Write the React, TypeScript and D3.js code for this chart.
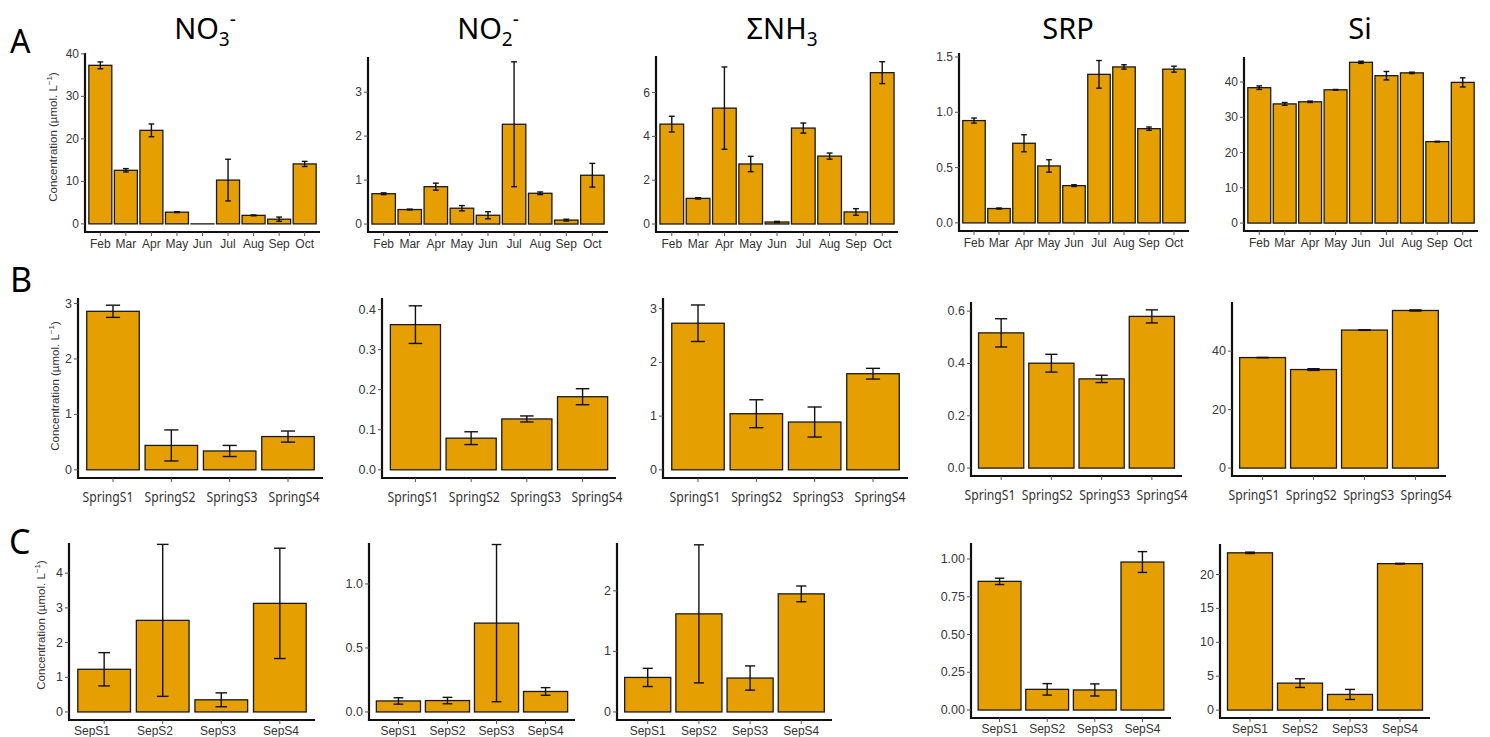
import React from "react";
import * as d3 from "d3";

// ---------- categories ----------
const MONTHS = ["Feb", "Mar", "Apr", "May", "Jun", "Jul", "Aug", "Sep", "Oct"];
const SPRING = ["SpringS1", "SpringS2", "SpringS3", "SpringS4"];
const SEPT = ["SepS1", "SepS2", "SepS3", "SepS4"];

// ---------- row A: monthly means and errors ----------
const NO3_MONTH = [37.3, 12.6, 22.0, 2.75, 0.0, 10.3, 2.0, 1.1, 14.1];
const NO3_MONTH_SE = [0.8, 0.4, 1.5, 0.1, 0, 4.9, 0.1, 0.5, 0.6];
const NO2_MONTH = [0.69, 0.33, 0.85, 0.36, 0.2, 2.27, 0.7, 0.09, 1.11];
const NO2_MONTH_SE = [0.02, 0.01, 0.08, 0.06, 0.08, 1.42, 0.03, 0.02, 0.27];
const NH3_MONTH = [4.56, 1.17, 5.29, 2.74, 0.09, 4.38, 3.1, 0.55, 6.91];
const NH3_MONTH_SE = [0.36, 0.03, 1.88, 0.35, 0.03, 0.23, 0.14, 0.15, 0.5];
const SRP_MONTH = [0.925, 0.13, 0.72, 0.515, 0.337, 1.343, 1.41, 0.852, 1.39];
const SRP_MONTH_SE = [0.023, 0.005, 0.077, 0.056, 0.008, 0.125, 0.02, 0.015, 0.027];
const SI_MONTH = [38.4, 33.8, 34.4, 37.8, 45.6, 41.8, 42.6, 23.1, 39.9];
const SI_MONTH_SE = [0.5, 0.4, 0.2, 0.1, 0.3, 1.2, 0.2, 0.1, 1.3];

// ---------- row B: spring stations ----------
const NO3_SPRING = [2.86, 0.44, 0.34, 0.6];
const NO3_SPRING_SE = [0.11, 0.28, 0.1, 0.1];
const NO2_SPRING = [0.3625, 0.079, 0.127, 0.1825];
const NO2_SPRING_SE = [0.047, 0.016, 0.0075, 0.02];
const NH3_SPRING = [2.73, 1.045, 0.89, 1.79];
const NH3_SPRING_SE = [0.34, 0.26, 0.28, 0.1];
const SRP_SPRING = [0.517, 0.401, 0.341, 0.58];
const SRP_SPRING_SE = [0.054, 0.034, 0.014, 0.025];
const SI_SPRING = [37.8, 33.7, 47.2, 53.9];
const SI_SPRING_SE = [0.05, 0.3, 0.1, 0.2];

// ---------- row C: September stations ----------
const NO3_SEP = [1.23, 2.64, 0.35, 3.13];
const NO3_SEP_SE = [0.48, 2.19, 0.2, 1.59];
const NO2_SEP = [0.086, 0.089, 0.694, 0.16];
const NO2_SEP_SE = [0.025, 0.025, 0.614, 0.03];
const NH3_SEP = [0.57, 1.62, 0.56, 1.95];
const NH3_SEP_SE = [0.15, 1.14, 0.2, 0.13];
const SRP_SEP = [0.852, 0.137, 0.133, 0.98];
const SRP_SEP_SE = [0.021, 0.038, 0.04, 0.069];
const SI_SEP = [23.2, 3.98, 2.31, 21.6];
const SI_SEP_SE = [0.1, 0.64, 0.74, 0.05];

// ---------- y-axis tick labels & axis maxima ----------
const TICKS_A = [[0, 10, 20, 30, 40], [0, 1, 2, 3], [0, 2, 4, 6], [0, 0.5, 1.0, 1.5], [0, 10, 20, 30, 40]];
const FMT_A = ["d", "d", "d", ".1f", "d"];
const YMAX_A = [40.2, 3.8, 7.67, 1.536, 47.1];
const TICKS_B = [[0, 1, 2, 3], [0, 0.1, 0.2, 0.3, 0.4], [0, 1, 2, 3], [0, 0.2, 0.4, 0.6], [0, 20, 40]];
const FMT_B = ["d", ".1f", "d", ".1f", "d"];
const YMAX_B = [3.1, 0.429, 3.2, 0.635, 56.8];
const TICKS_C = [[0, 1, 2, 3, 4], [0, 0.5, 1.0], [0, 1, 2], [0, 0.25, 0.5, 0.75, 1.0], [0, 5, 10, 15, 20]];
const FMT_C = ["d", ".1f", "d", ".2f", "d"];
const YMAX_C = [4.87, 1.32, 2.79, 1.106, 24.5];

// ---------- layout (pixel frames, not data) ----------
type Frame = { x0: number; x1: number; top: number; axis: number; labels?: [number, number] };
const FRAMES_A: Frame[] = [
  { x0: 85, x1: 320, top: 53, axis: 232 },
  { x0: 368, x1: 608, top: 57, axis: 232 },
  { x0: 656, x1: 898, top: 56, axis: 232 },
  { x0: 959, x1: 1189, top: 53, axis: 231 },
  { x0: 1244, x1: 1478, top: 57, axis: 231 },
];
const FRAMES_B: Frame[] = [
  { x0: 78, x1: 323, top: 298, axis: 478, labels: [108, 294] },
  { x0: 382, x1: 616, top: 298, axis: 478, labels: [413, 597] },
  { x0: 663, x1: 908, top: 298, axis: 478, labels: [695, 880] },
  { x0: 971, x1: 1182, top: 302, axis: 476, labels: [990, 1162] },
  { x0: 1232, x1: 1446, top: 302, axis: 476, labels: [1254, 1426] },
];
const FRAMES_C: Frame[] = [
  { x0: 69, x1: 315, top: 543, axis: 720, labels: [92, 281] },
  { x0: 369, x1: 575, top: 543, axis: 720 },
  { x0: 617, x1: 832, top: 543, axis: 720 },
  { x0: 971, x1: 1171, top: 543, axis: 718 },
  { x0: 1220, x1: 1430, top: 544, axis: 718 },
];

const FILL = "#E69F00";
const ARIAL = "'Liberation Sans', Arial, sans-serif";
const CALIBRI = "'Noto Sans', 'Open Sans', sans-serif";

type PanelProps = {
  cats: string[];
  values: number[];
  errs: number[];
  ticks: number[];
  fmt: string;
  yMax: number;
  frame: Frame;
  labelFont: string;
  labelSize: number;
  labelOffset: number;
  labelLength?: number;
  tickSize: number;
  capRatio: number;
};

function Panel(p: PanelProps) {
  const { frame } = p;
  const x = d3
    .scaleBand<string>()
    .domain(p.cats)
    .range([frame.x0, frame.x1])
    .paddingInner(0.1)
    .paddingOuter(0.15);
  const bw = x.bandwidth();
  const labelX = frame.labels
    ? d3.scalePoint<string>().domain(p.cats).range(frame.labels)
    : (c: string) => x(c)! + bw / 2;
  const lo = (-p.yMax * 0.05) / 1.05;
  const y = d3.scaleLinear().domain([lo, p.yMax]).range([frame.axis, frame.top]);
  const f = d3.format(p.fmt);
  const cap = bw * p.capRatio;
  return (
    <g>
      {p.cats.map((c, i) => {
        const v = p.values[i];
        const x0 = x(c)!;
        return (
          <rect
            key={"b" + c}
            x={x0}
            y={y(Math.max(v, 0))}
            width={bw}
            height={Math.max(y(0) - y(v), 0.01)}
            fill={FILL}
            stroke="#1a1a1a"
            strokeWidth={1.3}
          />
        );
      })}
      {p.cats.map((c, i) => {
        const v = p.values[i];
        const e = p.errs[i];
        if (!e) return null;
        const cx = x(c)! + bw / 2;
        const yt = y(v + e);
        const yb = y(Math.max(v - e, 0));
        return (
          <g key={"e" + c} stroke="#111" strokeWidth={1.4}>
            <line x1={cx} x2={cx} y1={yt} y2={yb} />
            <line x1={cx - cap / 2} x2={cx + cap / 2} y1={yt} y2={yt} />
            <line x1={cx - cap / 2} x2={cx + cap / 2} y1={yb} y2={yb} />
          </g>
        );
      })}
      {/* axes */}
      <line x1={frame.x0} x2={frame.x0} y1={frame.top} y2={frame.axis + 1} stroke="#111" strokeWidth={2.2} />
      <line x1={frame.x0 - 1} x2={frame.x1} y1={frame.axis} y2={frame.axis} stroke="#111" strokeWidth={2.2} />
      {p.ticks.map((t) => (
        <g key={"t" + t}>
          <line x1={frame.x0 - 4} x2={frame.x0} y1={y(t)} y2={y(t)} stroke="#555" strokeWidth={1} />
          <text
            x={frame.x0 - 6}
            y={y(t)}
            textAnchor="end"
            dominantBaseline="central"
            fontFamily={ARIAL}
            fontSize={p.tickSize}
            fill="#383838"
          >
            {f(t)}
          </text>
        </g>
      ))}
      {p.cats.map((c) => {
        const cx = x(c)! + bw / 2;
        return (
          <g key={"x" + c}>
            <line x1={cx} x2={cx} y1={frame.axis} y2={frame.axis + 4} stroke="#555" strokeWidth={1} />
            <text
              x={labelX(c)}
              y={frame.axis + p.labelOffset}
              textAnchor="middle"
              fontFamily={p.labelFont}
              fontSize={p.labelSize}
              fill="#333"
              textLength={p.labelLength}
              lengthAdjust={p.labelLength ? "spacingAndGlyphs" : undefined}
            >
              {c}
            </text>
          </g>
        );
      })}
    </g>
  );
}

function YTitle({ x, y }: { x: number; y: number }) {
  return (
    <text
      transform={`translate(${x},${y}) rotate(-90)`}
      textAnchor="middle"
      dominantBaseline="central"
      fontFamily={ARIAL}
      fontSize={11.5}
      fill="#333"
    >
      Concentration (µmol. L
      <tspan dy={-4} fontSize={8}>
        −1
      </tspan>
      <tspan dy={4}>)</tspan>
    </text>
  );
}

function Title({ x, main, sub, sup }: { x: number; main: string; sub?: string; sup?: string }) {
  return (
    <text x={x} y={39} textAnchor="middle" fontFamily={CALIBRI} fontSize={29} fill="#000">
      {main}
      {sub ? (
        <tspan dy={7} fontSize={19}>
          {sub}
        </tspan>
      ) : null}
      {sup ? (
        <tspan dy={sub ? -20 : -12} fontSize={19}>
          {sup}
        </tspan>
      ) : null}
    </text>
  );
}

export default function App() {
  const rowA = [
    [NO3_MONTH, NO3_MONTH_SE],
    [NO2_MONTH, NO2_MONTH_SE],
    [NH3_MONTH, NH3_MONTH_SE],
    [SRP_MONTH, SRP_MONTH_SE],
    [SI_MONTH, SI_MONTH_SE],
  ];
  const rowB = [
    [NO3_SPRING, NO3_SPRING_SE],
    [NO2_SPRING, NO2_SPRING_SE],
    [NH3_SPRING, NH3_SPRING_SE],
    [SRP_SPRING, SRP_SPRING_SE],
    [SI_SPRING, SI_SPRING_SE],
  ];
  const rowC = [
    [NO3_SEP, NO3_SEP_SE],
    [NO2_SEP, NO2_SEP_SE],
    [NH3_SEP, NH3_SEP_SE],
    [SRP_SEP, SRP_SEP_SE],
    [SI_SEP, SI_SEP_SE],
  ];
  return (
    <svg
      width={1490}
      height={737}
      style={{ position: "absolute", left: 0, top: 0, background: "#fff" }}
    >
      <rect width={1490} height={737} fill="#fff" />
      {/* titles */}
      <Title x={205} main="NO" sub="3" sup="-" />
      <Title x={488} main="NO" sub="2" sup="-" />
      <Title x={782} main="ΣNH" sub="3" />
      <Title x={1068} main="SRP" />
      <Title x={1360} main="Si" />
      {/* row letters */}
      <text x={10} y={53} fontFamily={CALIBRI} fontSize={32} fill="#000">A</text>
      <text x={10} y={292} fontFamily={CALIBRI} fontSize={34} fill="#000">B</text>
      <text x={9} y={554} fontFamily={CALIBRI} fontSize={34} fill="#000">C</text>
      <YTitle x={53} y={137} />
      <YTitle x={55} y={386} />
      <YTitle x={41} y={625} />
      {rowA.map(([v, e], i) => (
        <Panel
          key={"A" + i}
          cats={MONTHS}
          values={v}
          errs={e}
          ticks={TICKS_A[i]}
          fmt={FMT_A[i]}
          yMax={YMAX_A[i]}
          frame={FRAMES_A[i]}
          labelFont={ARIAL}
          labelSize={12}
          labelOffset={16}
          tickSize={12}
          capRatio={0.25}
        />
      ))}
      {rowB.map(([v, e], i) => (
        <Panel
          key={"B" + i}
          cats={SPRING}
          values={v}
          errs={e}
          ticks={TICKS_B[i]}
          fmt={FMT_B[i]}
          yMax={YMAX_B[i]}
          frame={FRAMES_B[i]}
          labelFont={CALIBRI}
          labelSize={14}
          labelOffset={24}
          labelLength={51}
          tickSize={12.5}
          capRatio={0.27}
        />
      ))}
      {rowC.map(([v, e], i) => (
        <Panel
          key={"C" + i}
          cats={SEPT}
          values={v}
          errs={e}
          ticks={TICKS_C[i]}
          fmt={FMT_C[i]}
          yMax={YMAX_C[i]}
          frame={FRAMES_C[i]}
          labelFont={ARIAL}
          labelSize={12}
          labelOffset={15}
          tickSize={12.5}
          capRatio={0.22}
        />
      ))}
    </svg>
  );
}
